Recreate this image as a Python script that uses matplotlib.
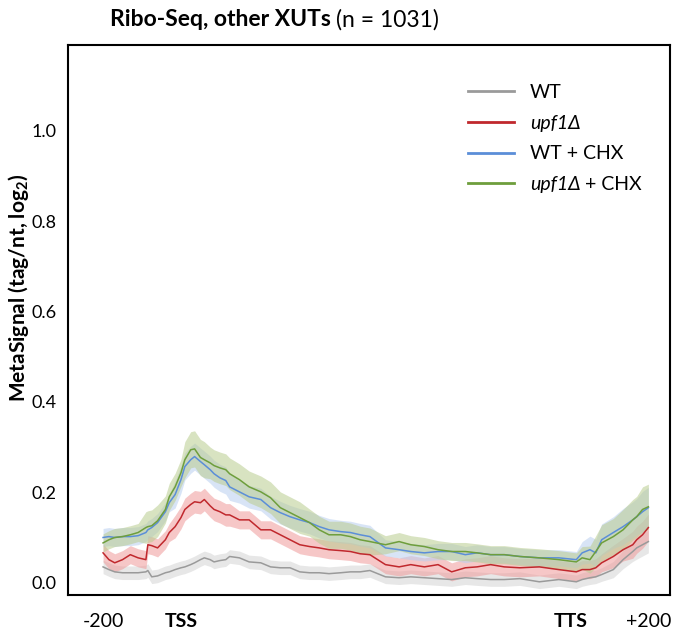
import matplotlib
matplotlib.use("Agg")
import matplotlib.pyplot as plt
from matplotlib.transforms import IdentityTransform
import numpy as np

plt.rcParams["font.family"] = ["Lato", "DejaVu Sans"]
plt.rcParams["mathtext.fontset"] = "custom"
plt.rcParams["mathtext.rm"] = "Lato"
plt.rcParams["mathtext.bf"] = "Lato:bold"

# metagene position: -200 -> 0, TSS -> 200, TTS -> 1200, +200 -> 1400
pos = [0, 15, 30, 50, 70, 90, 110, 115, 125, 140, 160, 170, 185, 200, 210, 225,
       235, 250, 260, 275, 285, 300, 315, 325, 350, 375, 405, 430, 455, 480, 505,
       530, 555, 580, 610, 635, 660, 685, 725, 760, 790, 825, 860, 895, 930, 960,
       995, 1030, 1070, 1120, 1170, 1215, 1230, 1250, 1265, 1280, 1310, 1335,
       1360, 1370, 1385, 1400]

wt = [0.035, 0.029, 0.024, 0.022, 0.022, 0.022, 0.024, 0.027, 0.013, 0.015, 0.022,
      0.024, 0.029, 0.033, 0.035, 0.040, 0.044, 0.051, 0.055, 0.051, 0.046, 0.049,
      0.051, 0.058, 0.055, 0.046, 0.044, 0.035, 0.033, 0.033, 0.024, 0.022, 0.022,
      0.020, 0.022, 0.024, 0.024, 0.027, 0.013, 0.011, 0.013, 0.011, 0.009, 0.007,
      0.011, 0.009, 0.007, 0.007, 0.009, 0.002, 0.007, 0.002, 0.007, 0.011, 0.013,
      0.018, 0.029, 0.051, 0.069, 0.077, 0.084, 0.091]
upf1 = [0.066, 0.051, 0.044, 0.051, 0.062, 0.055, 0.051, 0.084, 0.082, 0.077, 0.095,
        0.111, 0.124, 0.144, 0.162, 0.173, 0.179, 0.177, 0.184, 0.170, 0.162, 0.157,
        0.150, 0.150, 0.139, 0.139, 0.117, 0.117, 0.106, 0.095, 0.084, 0.080, 0.077,
        0.073, 0.071, 0.069, 0.064, 0.062, 0.040, 0.035, 0.040, 0.035, 0.040, 0.024,
        0.033, 0.035, 0.040, 0.035, 0.033, 0.035, 0.029, 0.024, 0.029, 0.029, 0.033,
        0.044, 0.058, 0.073, 0.084, 0.095, 0.106, 0.122]
wt_chx = [0.100, 0.102, 0.100, 0.102, 0.102, 0.104, 0.111, 0.117, 0.122, 0.133, 0.157,
          0.177, 0.195, 0.228, 0.257, 0.272, 0.279, 0.268, 0.261, 0.250, 0.241, 0.232,
          0.226, 0.212, 0.201, 0.190, 0.184, 0.166, 0.155, 0.146, 0.139, 0.133, 0.124,
          0.117, 0.113, 0.111, 0.106, 0.102, 0.077, 0.073, 0.069, 0.066, 0.069, 0.069,
          0.062, 0.066, 0.062, 0.062, 0.058, 0.055, 0.055, 0.051, 0.066, 0.073, 0.066,
          0.095, 0.111, 0.124, 0.139, 0.146, 0.157, 0.166]
upf1_chx = [0.088, 0.095, 0.100, 0.102, 0.106, 0.111, 0.122, 0.124, 0.126, 0.137, 0.162,
            0.190, 0.212, 0.243, 0.272, 0.294, 0.296, 0.277, 0.272, 0.265, 0.259, 0.254,
            0.250, 0.241, 0.228, 0.212, 0.201, 0.188, 0.166, 0.155, 0.144, 0.133, 0.117,
            0.106, 0.106, 0.102, 0.095, 0.091, 0.084, 0.091, 0.084, 0.080, 0.073, 0.069,
            0.069, 0.066, 0.062, 0.062, 0.058, 0.055, 0.051, 0.046, 0.055, 0.051, 0.069,
            0.088, 0.102, 0.117, 0.139, 0.146, 0.162, 0.168]

# confidence band half widths
wt_ci = [0.015] * 56 + [0.018, 0.02, 0.022, 0.025, 0.025, 0.025]
upf1_ci = [0.02] * 12 + [0.025] * 12 + [0.02] * 32 + [0.025, 0.025, 0.03, 0.03, 0.03, 0.03]
wt_chx_ci = [0.02] * 12 + [0.03] * 12 + [0.025] * 14 + [0.018] * 14 + \
            [0.025, 0.03, 0.03, 0.035, 0.035, 0.04, 0.04, 0.04, 0.045, 0.045]
upf1_chx_ci = [0.02] * 6 + [0.035] * 4 + [0.03] * 4 + [0.04] * 5 + [0.035] * 12 + \
              [0.03] * 7 + [0.02] * 14 + [0.025, 0.03, 0.035, 0.04, 0.04, 0.045,
                                          0.045, 0.045, 0.05, 0.05]

# the "+ CHX" of the last label is upright, added after the legend is drawn
labels = ["WT", "upf1Δ", "WT + CHX", "upf1Δ"]

series = [
    (wt, wt_ci, "#9a9a9a", "#d4d4d4"),
    (upf1, upf1_ci, "#c0282d", "#ef9a9a"),
    (wt_chx, wt_chx_ci, "#5b8ed8", "#b9cff0"),
    (upf1_chx, upf1_chx_ci, "#6e9e3c", "#b9cc8f"),
]

fig = plt.figure(figsize=(6.8, 6.39), dpi=100)
ax = fig.add_axes([0.1, 0.069, 0.885, 0.861])

x = np.array(pos)
handles = []
for vals, ci, col, band in series:
    v = np.array(vals)
    c = np.array(ci)
    ax.fill_between(x, v - c, v + c, color=band, alpha=0.55, lw=0)
    h, = ax.plot(x, v, color=col, lw=1.1)
    handles.append(h)

ax.set_xlim(-90, 1455)
ax.set_ylim(-0.027, 1.19)
ax.set_yticks([0.0, 0.2, 0.4, 0.6, 0.8, 1.0])
ax.set_yticklabels(["0.0", "0.2", "0.4", "0.6", "0.8", "1.0"], fontsize=13)
ax.set_xticks([0, 200, 1200, 1400])
ax.set_xticklabels(["-200", "TSS", "TTS", "+200"], fontsize=14)
for lab in ax.get_xticklabels()[1:3]:
    lab.set_fontweight("bold")
ax.tick_params(axis="x", length=0, pad=13)
ax.tick_params(axis="y", length=0, pad=8)
for s in ax.spines.values():
    s.set_linewidth(1.5)

ax.set_ylabel(r"MetaSignal (tag/nt, log$_\mathbf{2}$)", fontsize=15,
              fontweight="bold")
ax.yaxis.set_label_coords(-0.061, 0.558)

leg_handles = [plt.Line2D([], [], color=h.get_color(), lw=2) for h in handles]
leg = ax.legend(leg_handles, labels, loc="upper left", bbox_to_anchor=(0.635, 0.96),
                frameon=False, fontsize=14, handlelength=2.4, handletextpad=0.8,
                labelspacing=0.7)
for t in leg.get_texts()[1::2]:
    t.set_fontstyle("italic")

# title: bold part followed by normal part
t1 = fig.text(0.162, 0.969, "Ribo-Seq, other XUTs", fontsize=16.5,
              fontweight="bold", va="center", ha="left")
fig.canvas.draw()
bb = t1.get_window_extent().transformed(fig.transFigure.inverted())
fig.text(bb.x1 + 0.007, 0.969, "(n = 1031)", fontsize=16.5, va="center", ha="left")

last = leg.get_texts()[3]
lb = last.get_window_extent()
base_y = last.get_transform().transform(last.get_position())[1]
fig.text(lb.x1 + 5, base_y, "+ CHX", fontsize=14, va="baseline", ha="left",
         transform=IdentityTransform())

fig.savefig("out.png", dpi=100)
